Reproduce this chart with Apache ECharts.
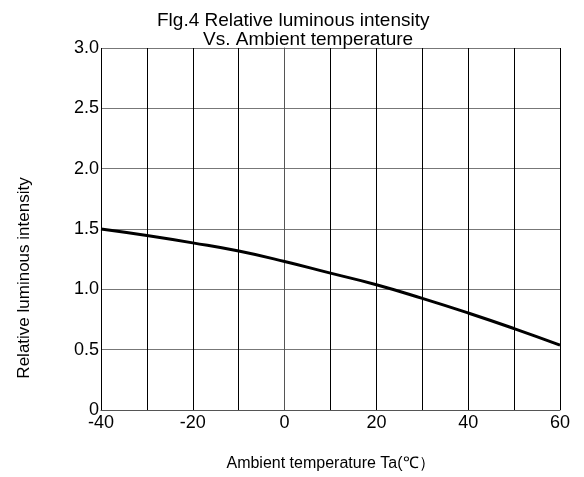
<!DOCTYPE html>
<html>
<head>
<meta charset="utf-8">
<script src="https://cdn.jsdelivr.net/npm/echarts@6/dist/echarts.min.js"></script>
<style>
  html, body { margin: 0; padding: 0; background: #fff; }
  #chart { width: 584px; height: 477px; }
</style>
</head>
<body>
<div id="chart"></div>
<script>
// ambient temperature (°C) and relative luminous intensity
const temps = [-40, -30, -20, -10, 0, 10, 20, 30, 40, 50, 60]
const intensity = [1.50, 1.446, 1.385, 1.317, 1.231, 1.134, 1.038, 0.925, 0.804, 0.675, 0.538]
const xLabels = [-40, -20, 0, 20, 40, 60]

const font = 'Liberation Sans, Arial, sans-serif'
const chart = echarts.init(document.getElementById('chart'))

const options = {
  animation: false,
  title: [
    {
      text: 'Flg.4 Relative luminous intensity',
      left: 152,
      top: 6,
      textStyle: { fontFamily: font, fontSize: 19, fontWeight: 'normal', color: '#000' }
    },
    {
      text: 'Vs. Ambient temperature',
      left: 198,
      top: 25,
      textStyle: { fontFamily: font, fontSize: 19, fontWeight: 'normal', color: '#000' }
    }
  ],
  grid: {
    left: 101,
    right: 24,
    top: 48,
    bottom: 57,
    containLabel: false
  },
  xAxis: {
    type: 'value',
    min: -40,
    max: 60,
    interval: 10,
    name: 'Ambient temperature Ta(℃）',
    nameLocation: 'middle',
    nameGap: 46,
    nameTextStyle: { fontFamily: font, fontSize: 16, color: '#000' },
    axisLine: { show: true, lineStyle: { color: '#555', width: 1 } },
    axisTick: { show: false },
    axisLabel: {
      fontFamily: font,
      fontSize: 18,
      color: '#000',
      margin: 4,
      formatter: (v) => xLabels.includes(v) ? String(v) : ''
    },
    splitLine: { show: true, lineStyle: { color: '#000', width: 1 } }
  },
  yAxis: {
    type: 'value',
    min: 0,
    max: 3,
    interval: 0.5,
    axisLine: { show: true, lineStyle: { color: '#555', width: 1 } },
    axisTick: { show: false },
    axisLabel: {
      fontFamily: font,
      fontSize: 18,
      color: '#000',
      margin: 2,
      padding: [0, 0, 4, 0],
      formatter: (v) => v === 0 ? '0' : v.toFixed(1)
    },
    splitLine: { show: true, lineStyle: { color: '#777', width: 1 } }
  },
  graphic: [
    {
      type: 'text',
      x: 24,
      y: 278,
      rotation: Math.PI / 2,
      style: {
        text: 'Relative luminous intensity',
        fontFamily: font,
        fontSize: 17,
        fill: '#000',
        textAlign: 'center',
        textVerticalAlign: 'middle'
      }
    }
  ],
  series: [
    {
      type: 'line',
      data: temps.map((t, i) => [t, intensity[i]]),
      smooth: true,
      symbol: 'none',
      lineStyle: { color: '#000', width: 3 }
    }
  ]
}

chart.setOption(options)
</script>
</body>
</html>
